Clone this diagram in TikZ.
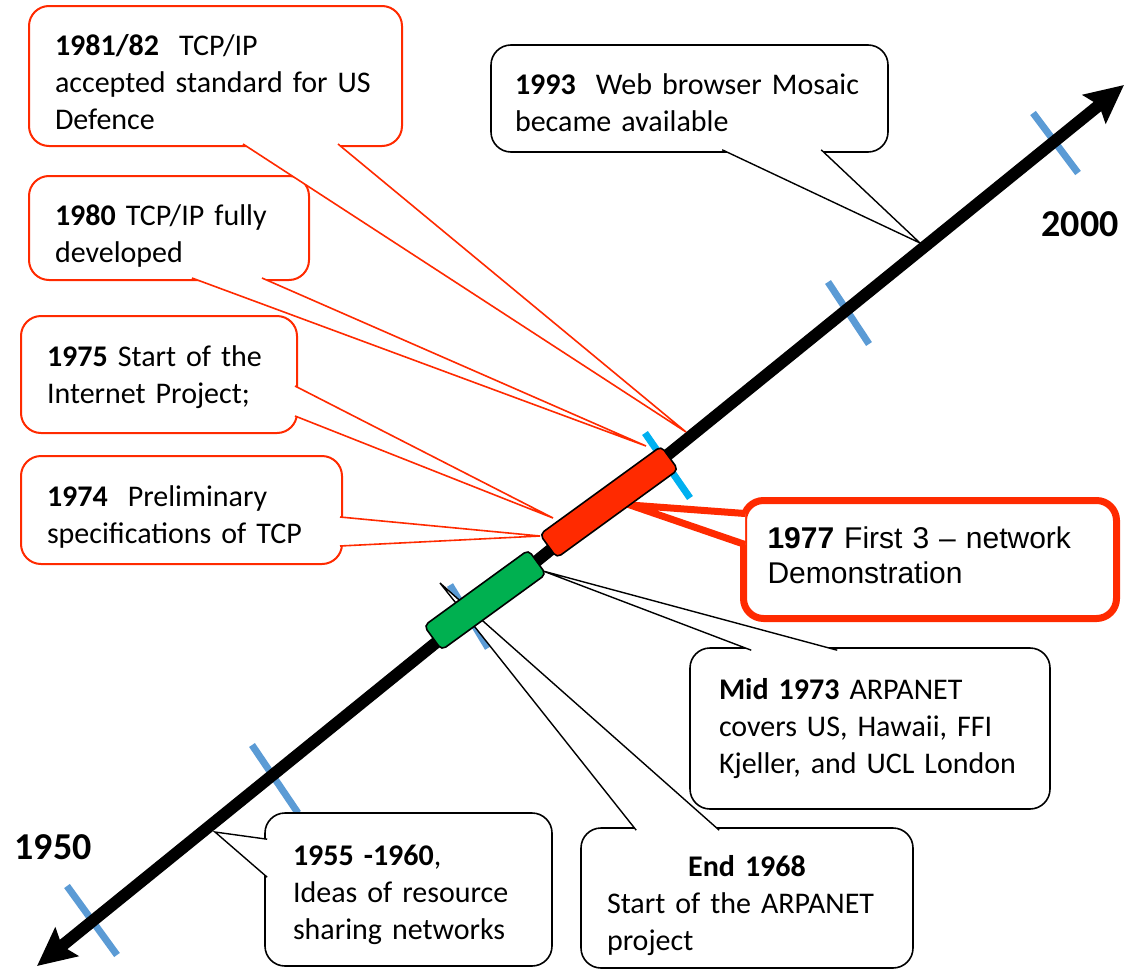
\documentclass[tikz,border=0pt]{standalone}
\usepackage{fontspec}
\setmainfont{Carlito}
\newfontfamily\arialfont{Liberation Sans}
\usetikzlibrary{arrows.meta, calc}
\definecolor{callred}{HTML}{FF2A00}
\definecolor{bargreen}{HTML}{00B050}
\definecolor{tickblue}{HTML}{5B9BD5}
\definecolor{tickcyan}{HTML}{00B0F0}

\begin{document}
\begin{tikzpicture}[x=1pt, y=-1pt, font=\fontsize{30}{37}\selectfont,
    callbox/.style={rectangle, rounded corners=20pt, draw=black, fill=white, line width=1.6pt,
      inner xsep=26pt, align=left},
    redbox/.style={callbox, draw=callred, line width=2pt},
    ptr/.style={draw=black, fill=white, line width=1.4pt},
    redptr/.style={ptr, draw=callred, line width=1.6pt},
    tickmark/.style={line width=7pt, tickblue},
    bar/.style={rectangle, rounded corners=5pt, draw=black, line width=1.6pt, rotate=36},
    yearlbl/.style={font=\fontsize{38}{44}\selectfont\bfseries}]

    \useasboundingbox (0,0) rectangle (1124,969);

    % Decade ticks
    \foreach \xa/\ya/\xb/\yb in {67/886/117/955, 252/745/298/813, 450/585/488/648,
        828/282/869/344, 1033/113/1078/173}
      \draw[tickmark] (\xa,\ya) -- (\xb,\yb);
    \draw[tickmark, tickcyan] (645,433) -- (690,498);

    % Time axis
    \coordinate (y1950) at (37,966);
    \coordinate (y2000) at (1124,85);
    \draw[line width=12pt, {Stealth[length=38pt, width=36pt, inset=6pt]}-{Stealth[length=38pt, width=36pt, inset=6pt]}]
      (y1950) -- (y2000);
    \node (l1950) [yearlbl] at (53,847) {1950};
    \node (l2000) [yearlbl] at (1080,224) {2000};

    % Pointer tips on the axis
    \coordinate (t55) at (215,832);
    \coordinate (t68) at (440,583);
    \coordinate (t73) at (543,571);
    \coordinate (t74) at (540,536);
    \coordinate (t75) at (553,518);
    \coordinate (t77) at (630,505);
    \coordinate (t80) at (646,446);
    \coordinate (t8182) at (686,432);
    \coordinate (t93) at (920,243);

    % Black callouts
    \node (c55) [callbox, inner xsep=28pt, text width=231pt, minimum height=153pt] at (408.5,889.5)
      {\rule{0pt}{32pt}\textbf{1955 -1960},\\Ideas of resource\\sharing networks};
    \draw[ptr] ($(c55.north west)+(3,27)$) -- (t55) -- ($(c55.north west)+(3,65)$);

    \node (c68) [callbox, text width=280pt, minimum height=140pt] at (747,898)
      {\rule{0pt}{36pt}\makebox[280pt]{\textbf{End 1968}}\\Start of the ARPANET\\project};
    \draw[ptr] ($(c68.north west)+(56,3)$) -- (t68) -- ($(c68.north west)+(139,3)$);

    \node (c73) [callbox, inner xsep=29pt, text width=302pt, minimum height=161pt] at (870,728.5)
      {\textbf{Mid 1973} ARPANET\\covers US, Hawaii, FFI\\Kjeller, and UCL London};
    \draw[ptr] ($(c73.north west)+(62,3)$) -- (t73) -- ($(c73.north west)+(148,3)$);

    % Red callouts
    \node (c74) [redbox, text width=269pt, minimum height=108pt] at (181.5,510)
      {\rule{0pt}{34pt}\textbf{1974}~ Preliminary\\specifications of TCP};
    \draw[redptr] ($(c74.north east)+(-3,62)$) -- (t74) -- ($(c74.north east)+(-3,91)$);

    \node (c75) [redbox, text width=224pt, minimum height=117pt] at (159,374.5)
      {\rule{0pt}{26pt}\textbf{1975} Start of the\\Internet Project;};
    \draw[redptr] ($(c75.south east)+(-3,-48)$) -- (t75) -- ($(c75.south east)+(-3,-18)$);

    \node (c80) [redbox, text width=228pt, minimum height=104pt] at (169,228)
      {\rule{0pt}{36pt}\textbf{1980} TCP/IP fully\\developed};
    \draw[redptr] ($(c80.south west)+(164,-3)$) -- (t80) -- ($(c80.south west)+(234,-3)$);

    \node (c8182) [redbox, text width=321pt, minimum height=140pt] at (215.5,76)
      {\rule{0pt}{34pt}\textbf{1981/82}~ TCP/IP\\accepted standard for US\\Defence};
    \draw[redptr] ($(c8182.south west)+(215,-3)$) -- (t8182) -- ($(c8182.south west)+(310,-3)$);

    \node (c93) [callbox, inner xsep=24pt, text width=349pt, minimum height=107pt] at (689.5,98.5)
      {\rule{0pt}{30pt}\textbf{1993}~ Web browser Mosaic\\became available};
    \draw[ptr] ($(c93.south west)+(232,-3)$) -- (t93) -- ($(c93.south west)+(331,-3)$);

    % Highlighted callout
    \node (c77) [callbox, draw=callred, line width=7pt, inner xsep=24pt, text width=325pt,
      minimum height=118pt, font=\arialfont\fontsize{30}{35}\selectfont] at (930,559.5)
      {\textbf{1977} First 3 – network\\Demonstration\rule[-9pt]{0pt}{9pt}};
    \draw[ptr, draw=callred, line width=7pt] ($(c77.north west)+(5,16.5)$) -- (t77) -- ($(c77.north west)+(5,47.5)$);

    % Period bars
    \node (b73) [bar, fill=bargreen, minimum width=129pt, minimum height=30pt] at (485,600) {};
    \node (b77) [bar, fill=callred, minimum width=150pt, minimum height=29pt] at (609,502) {};
\end{tikzpicture}
\end{document}
